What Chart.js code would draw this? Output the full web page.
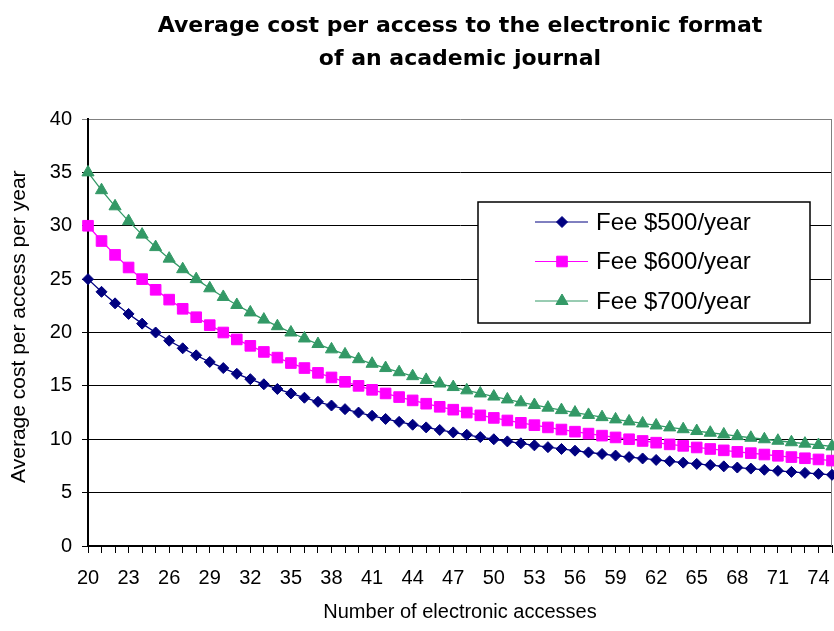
<!DOCTYPE html>
<html>
<head>
  <title>index</title>
  <script src="https://cdn.jsdelivr.net/npm/chart.js"></script>
  <style>
    body { margin: 0; background: #fff; }
  </style>
</head>
<body>
  <canvas id="chart" width="834" height="631"></canvas>

  <script>
    const accesses = ['20', '21', '22', '23', '24', '25', '26', '27', '28', '29',
      '30', '31', '32', '33', '34', '35', '36', '37', '38', '39',
      '40', '41', '42', '43', '44', '45', '46', '47', '48', '49',
      '50', '51', '52', '53', '54', '55', '56', '57', '58', '59',
      '60', '61', '62', '63', '64', '65', '66', '67', '68', '69',
      '70', '71', '72', '73', '74', '75'];

    const fee500 = [25.00, 23.81, 22.73, 21.74, 20.83, 20.00, 19.23, 18.52, 17.86, 17.24,
      16.67, 16.13, 15.63, 15.15, 14.71, 14.29, 13.89, 13.51, 13.16, 12.82,
      12.50, 12.20, 11.90, 11.63, 11.36, 11.11, 10.87, 10.64, 10.42, 10.20,
      10.00, 9.80, 9.62, 9.43, 9.26, 9.09, 8.93, 8.77, 8.62, 8.47,
      8.33, 8.20, 8.06, 7.94, 7.81, 7.69, 7.58, 7.46, 7.35, 7.25,
      7.14, 7.04, 6.94, 6.85, 6.76, 6.67];

    const fee600 = [30.00, 28.57, 27.27, 26.09, 25.00, 24.00, 23.08, 22.22, 21.43, 20.69,
      20.00, 19.35, 18.75, 18.18, 17.65, 17.14, 16.67, 16.22, 15.79, 15.38,
      15.00, 14.63, 14.29, 13.95, 13.64, 13.33, 13.04, 12.77, 12.50, 12.24,
      12.00, 11.76, 11.54, 11.32, 11.11, 10.91, 10.71, 10.53, 10.34, 10.17,
      10.00, 9.84, 9.68, 9.52, 9.38, 9.23, 9.09, 8.96, 8.82, 8.70,
      8.57, 8.45, 8.33, 8.22, 8.11, 8.00];

    const fee700 = [35.00, 33.33, 31.82, 30.43, 29.17, 28.00, 26.92, 25.93, 25.00, 24.14,
      23.33, 22.58, 21.88, 21.21, 20.59, 20.00, 19.44, 18.92, 18.42, 17.95,
      17.50, 17.07, 16.67, 16.28, 15.91, 15.56, 15.22, 14.89, 14.58, 14.29,
      14.00, 13.73, 13.46, 13.21, 12.96, 12.73, 12.50, 12.28, 12.07, 11.86,
      11.67, 11.48, 11.29, 11.11, 10.94, 10.77, 10.61, 10.45, 10.29, 10.14,
      10.00, 9.86, 9.72, 9.59, 9.46, 9.33];

    const seriesNames = ['Fee $500/year', 'Fee $600/year', 'Fee $700/year'];
    const yTicks = [0, 5, 10, 15, 20, 25, 30, 35, 40];

    const FONT = '"Liberation Sans", Arial, sans-serif';

    // draws a marker like chart.js does, for the boxed legend
    function marker(ctx, style, x, y, r, color) {
      ctx.save();
      ctx.fillStyle = color;
      ctx.strokeStyle = color;
      ctx.beginPath();
      if (style === 'rect') {
        const s = Math.SQRT1_2 * r;
        ctx.rect(x - s, y - s, 2 * s, 2 * s);
      } else if (style === 'rectRot') {
        ctx.moveTo(x, y - r);
        ctx.lineTo(x + r, y);
        ctx.lineTo(x, y + r);
        ctx.lineTo(x - r, y);
        ctx.closePath();
      } else {
        ctx.moveTo(x, y - r);
        ctx.lineTo(x + r * Math.sqrt(3) / 2, y + r / 2);
        ctx.lineTo(x - r * Math.sqrt(3) / 2, y + r / 2);
        ctx.closePath();
      }
      ctx.fill();
      ctx.stroke();
      ctx.restore();
    }

    const boxLegend = {
      id: 'boxLegend',
      afterDraw(chart) {
        const ctx = chart.ctx;
        const left = 478, top = 202, width = 332, height = 121;
        ctx.save();
        ctx.fillStyle = '#fff';
        ctx.fillRect(left, top, width, height);
        ctx.strokeStyle = '#000';
        ctx.lineWidth = 1.5;
        ctx.strokeRect(left, top, width, height);
        ctx.font = '24px ' + FONT;
        ctx.textBaseline = 'middle';
        chart.data.datasets.forEach((ds, i) => {
          const y = 222 + i * 39.5;
          ctx.strokeStyle = ds.borderColor;
          ctx.lineWidth = 1;
          ctx.beginPath();
          ctx.moveTo(535, y);
          ctx.lineTo(588, y);
          ctx.stroke();
          marker(ctx, ds.pointStyle, 562, y, ds.pointRadius, ds.borderColor);
          ctx.fillStyle = '#000';
          ctx.fillText(ds.label, 596, y + 1);
        });
        ctx.restore();
      }
    };

    // grey plot-area edge on the right
    const plotEdge = {
      id: 'plotEdge',
      beforeDatasetsDraw(chart) {
        const { ctx, chartArea } = chart;
        ctx.save();
        ctx.strokeStyle = '#808080';
        ctx.lineWidth = 1;
        ctx.beginPath();
        ctx.moveTo(Math.round(chartArea.right) - 0.5, chartArea.top);
        ctx.lineTo(Math.round(chartArea.right) - 0.5, chartArea.bottom);
        ctx.stroke();
        ctx.restore();
      }
    };

    new Chart(document.getElementById('chart'), {
      type: 'line',
      data: {
        labels: accesses,
        datasets: [
          { label: seriesNames[0], data: fee500, borderColor: '#000080', backgroundColor: '#000080',
            pointStyle: 'rectRot', pointRadius: 5.5 },
          { label: seriesNames[1], data: fee600, borderColor: '#ff00ff', backgroundColor: '#ff00ff',
            pointStyle: 'rect', pointRadius: 7.5 },
          { label: seriesNames[2], data: fee700, borderColor: '#339966', backgroundColor: '#339966',
            pointStyle: 'triangle', pointRadius: 7 }
        ].map(ds => Object.assign(ds, { borderWidth: 1.3, pointBorderWidth: 1, clip: false, tension: 0 }))
      },
      options: {
        responsive: false,
        animation: false,
        layout: { autoPadding: false, padding: { left: 0, right: 2, top: 0, bottom: 0 } },
        plugins: {
          legend: { display: false },
          tooltip: { enabled: false },
          title: {
            display: true,
            fullSize: false,
            text: ['Average cost per access to the electronic format', 'of an academic journal'],
            color: '#000',
            font: { family: '"DejaVu Sans", sans-serif', size: 22, weight: 'bold', lineHeight: 1.5 },
            padding: { top: 10, bottom: 43 }
          }
        },
        scales: {
          x: {
            afterFit(scale) {
              scale.height = 85;
              scale.paddingLeft = 0;
              scale.paddingRight = 0;
            },
            grid: { drawOnChartArea: false, drawTicks: true, tickLength: 7, color: '#000' },
            border: { color: '#000', width: 2 },
            ticks: {
              autoSkip: false,
              maxRotation: 0,
              color: '#000',
              padding: 13,
              font: { family: FONT, size: 20 },
              callback: (v, i) => (i % 3 === 0 ? accesses[i] : '')
            },
            title: {
              display: true,
              text: 'Number of electronic accesses',
              color: '#000',
              font: { family: FONT, size: 20 },
              padding: { top: 0, bottom: 7 }
            }
          },
          y: {
            min: 0,
            max: 40,
            afterFit(scale) { scale.width = 88; },
            afterBuildTicks(scale) { scale.ticks = yTicks.map(v => ({ value: v })); },
            grid: {
              color: ctx => (ctx.tick && ctx.tick.value === 40 ? '#808080' : '#000'),
              lineWidth: 1,
              tickLength: 6
            },
            border: { color: '#000', width: 2 },
            ticks: { color: '#000', padding: 10, font: { family: FONT, size: 20 } },
            title: {
              display: true,
              text: '  Average cost per access per year',
              color: '#000',
              font: { family: FONT, size: 21 },
              padding: { top: 7, bottom: 0 }
            }
          }
        }
      },
      plugins: [plotEdge, boxLegend]
    });
  </script>
</body>
</html>
